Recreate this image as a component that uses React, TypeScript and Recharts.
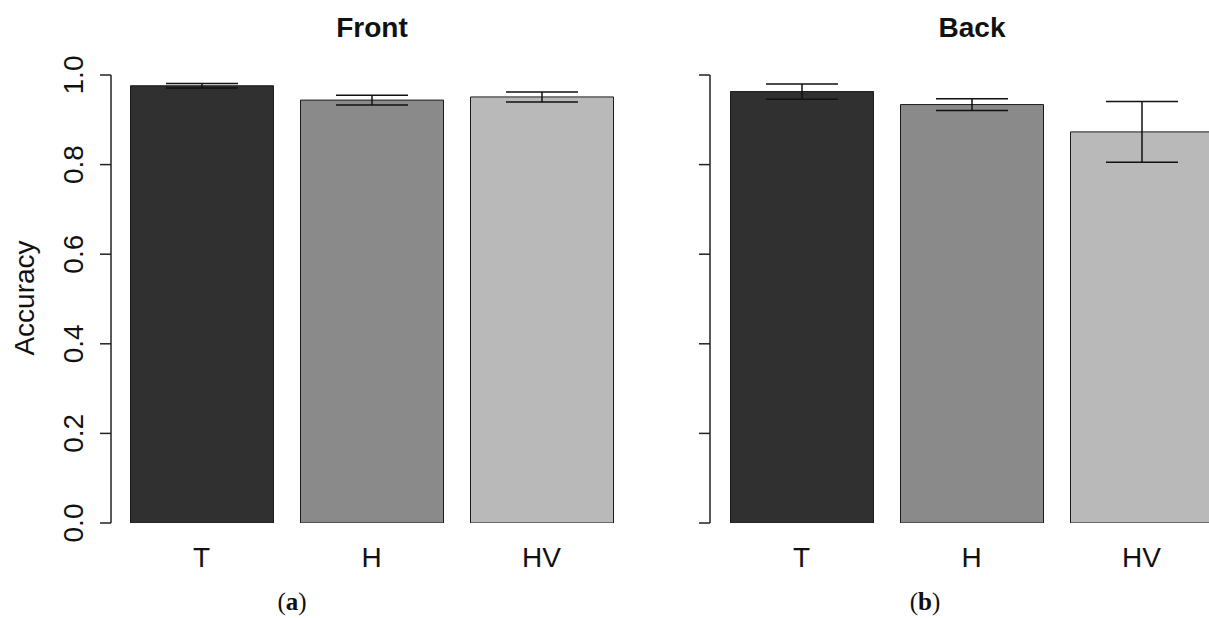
import { BarChart, Bar, XAxis, YAxis, Cell, ErrorBar } from 'recharts';

const categories = ['T', 'H', 'HV'];
const frontAccuracy = [0.976, 0.944, 0.951];
const frontError = [0.005, 0.011, 0.011];
const backAccuracy = [0.963, 0.934, 0.873];
const backError = [0.017, 0.013, 0.068];
const yTicks = [0, 0.2, 0.4, 0.6, 0.8, 1.0];

const barColors = ['#303030', '#8a8a8a', '#b9b9b9'];
const FONT = '"Liberation Sans", Arial, sans-serif';

const frontData = categories.map((name, i) => ({ name, acc: frontAccuracy[i], err: frontError[i] }));
const backData = categories.map((name, i) => ({ name, acc: backAccuracy[i], err: backError[i] }));

const YTick = (props: any) => {
  const { x, y, payload } = props;
  const bx = x - 15;
  return (
    <text
      x={bx}
      y={y}
      transform={`rotate(-90, ${bx}, ${y})`}
      textAnchor="middle"
      fontFamily={FONT}
      fontSize={28}
      fill="#111"
    >
      {Number(payload.value).toFixed(1)}
    </text>
  );
};

// back panel: tick marks only, no labels
const NoLabel = () => <g />;

const XTick = (props: any) => {
  const { x, y, payload } = props;
  return (
    <text x={x} y={y + 44} textAnchor="middle" fontFamily={FONT} fontSize={28} fill="#111">
      {payload.value}
    </text>
  );
};

type PanelProps = {
  data: { name: string; acc: number; err: number }[];
  left: number;
  axisWidth: number;
  padLeft: number;
  tickLabels: boolean;
};

function Panel({ data, left, axisWidth, padLeft, tickLabels }: PanelProps) {
  return (
    <div style={{ position: 'absolute', left, top: 0 }}>
      <BarChart
        width={640}
        height={618}
        data={data}
        margin={{ top: 75, right: 13.5, bottom: 65, left: 0 }}
        barSize={143}
      >
        <XAxis
          dataKey="name"
          height={30}
          axisLine={false}
          tickLine={false}
          tickSize={0}
          tickMargin={0}
          padding={{ left: padLeft, right: 0 }}
          tick={<XTick />}
          interval={0}
        />
        <YAxis
          width={axisWidth}
          domain={[0, 1]}
          ticks={yTicks}
          tickSize={11}
          axisLine={{ stroke: '#222', strokeWidth: 1.5 }}
          tickLine={{ stroke: '#222', strokeWidth: 1.5 }}
          tick={tickLabels ? <YTick /> : <NoLabel />}
          allowDataOverflow
        />
        <Bar dataKey="acc" stroke="#1a1a1a" strokeWidth={1} isAnimationActive={false}>
          {data.map((d, i) => (
            <Cell key={d.name} fill={barColors[i]} />
          ))}
          <ErrorBar dataKey="err" width={36} stroke="#111" strokeWidth={1.5} direction="y" />
        </Bar>
      </BarChart>
    </div>
  );
}

export default function App() {
  return (
    <div
      style={{
        position: 'absolute',
        left: 0,
        top: 0,
        width: 1209,
        height: 618,
        overflow: 'hidden',
        background: '#fff',
      }}
    >
      <Panel data={frontData} left={0} axisWidth={111} padLeft={5.5} tickLabels />
      <Panel data={backData} left={600} axisWidth={110} padLeft={6.5} tickLabels={false} />
      <svg
        width={1209}
        height={618}
        style={{ position: 'absolute', left: 0, top: 0, pointerEvents: 'none' }}
      >
        <text x={372} y={37} textAnchor="middle" fontFamily={FONT} fontSize={28} fontWeight="bold" fill="#111">
          Front
        </text>
        <text x={972} y={37} textAnchor="middle" fontFamily={FONT} fontSize={28} fontWeight="bold" fill="#111">
          Back
        </text>
        <text
          x={34}
          y={298}
          transform="rotate(-90, 34, 298)"
          textAnchor="middle"
          fontFamily={FONT}
          fontSize={28}
          fill="#111"
        >
          Accuracy
        </text>
        <text x={292} y={610} textAnchor="middle" fontFamily='"Liberation Serif", serif' fontSize={25} fill="#111">
          (<tspan fontWeight="bold">a</tspan>)
        </text>
        <text x={925} y={610} textAnchor="middle" fontFamily='"Liberation Serif", serif' fontSize={25} fill="#111">
          (<tspan fontWeight="bold">b</tspan>)
        </text>
      </svg>
    </div>
  );
}
